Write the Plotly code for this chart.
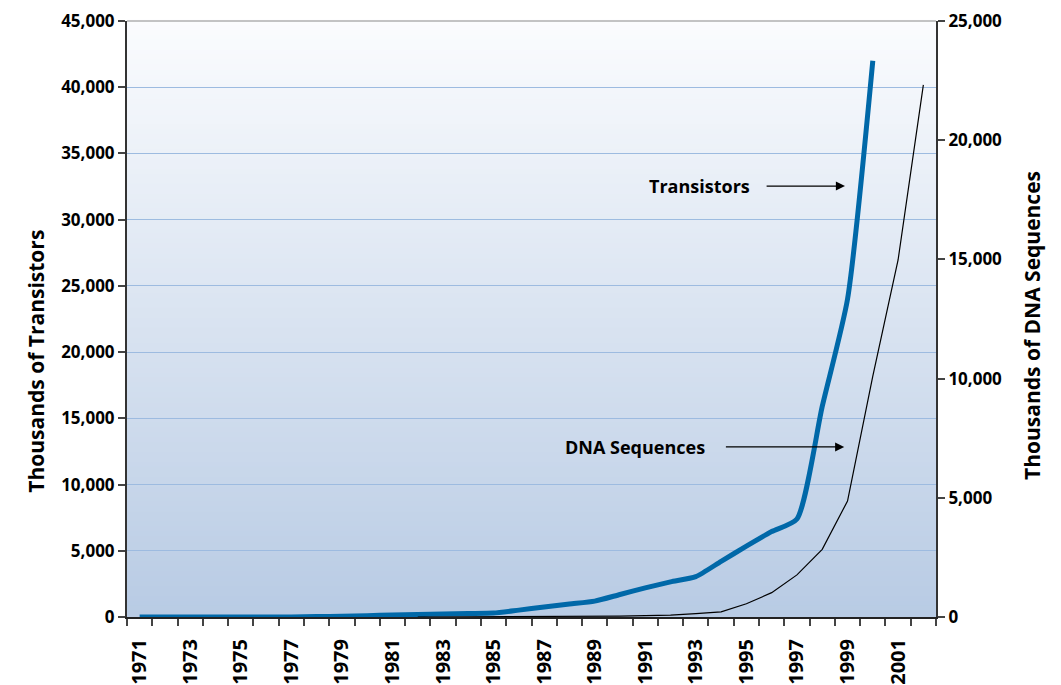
import plotly.graph_objects as go

# Transistor counts (thousands), one value per year
tr_years = list(range(1971, 2001))
transistors = [2.3, 3.5, 3.5, 6, 6, 6, 6, 29, 60, 100,
               150, 180, 220, 260, 300, 520, 750, 980, 1200, 1700,
               2200, 2650, 3050, 4200, 5350, 6450, 7400, 15900, 24000, 42000]

# DNA sequences (thousands)
dna_years = list(range(1982, 2003))
dna = [0.6, 2.4, 4.1, 5.7, 9.6, 14.6, 20.6, 28.8, 39.5, 55.6,
       78.6, 143.5, 215, 555, 1021, 1766, 2838, 4865, 10106, 14976, 22319]

year_labels = [str(y) for y in range(1971, 2002, 2)]

FONT = "Open Sans"
BLUE = "#0068a8"

fig = go.Figure()

fig.add_trace(go.Scatter(
    x=tr_years, y=transistors, mode="lines", name="Transistors",
    line=dict(color=BLUE, width=5, shape="spline", smoothing=0.6),
    yaxis="y"))

fig.add_trace(go.Scatter(
    x=dna_years, y=dna, mode="lines", name="DNA Sequences",
    line=dict(color="black", width=1.2),
    yaxis="y2"))

# vertical gradient background (white -> light blue)
shapes = []
n = 120
top, bot = (251, 252, 254), (184, 203, 228)
for i in range(n):
    t = (i + 0.5) / n
    c = tuple(round(top[k] + (bot[k] - top[k]) * t) for k in range(3))
    shapes.append(dict(type="rect", xref="x domain", yref="y domain",
                       x0=0, x1=1, y0=1 - (i + 1) / n, y1=1 - i / n + 0.002,
                       fillcolor="rgb(%d,%d,%d)" % c, line=dict(width=0),
                       layer="below"))
# thin top border
shapes.append(dict(type="line", xref="x domain", yref="y domain",
                   x0=0, x1=1, y0=1, y1=1, line=dict(color="#8a8a8a", width=1)))

title_font = dict(family=FONT, size=21, color="black", weight="bold")
note_font = dict(family=FONT, size=18, color="black", weight="bold")

annotations = [
    dict(text="Transistors", x=1993.15, y=32540, xref="x", yref="y",
         showarrow=False, font=note_font),
    dict(text="", x=1998.9, y=32540, ax=1995.74, ay=32540, xref="x", yref="y",
         axref="x", ayref="y", showarrow=True, arrowhead=2, arrowsize=1.4,
         arrowwidth=1.3, arrowcolor="black"),
    dict(text="DNA Sequences", x=1990.61, y=12840, xref="x", yref="y",
         showarrow=False, font=note_font),
    dict(text="", x=1998.87, y=12840, ax=1994.13, ay=12840, xref="x", yref="y",
         axref="x", ayref="y", showarrow=True, arrowhead=2, arrowsize=1.4,
         arrowwidth=1.3, arrowcolor="black"),
    dict(text="Thousands of Transistors", x=-0.1323, y=0.43, xref="paper", yref="paper",
         textangle=-90, showarrow=False, font=title_font),
    dict(text="Thousands of DNA Sequences", x=1.1384, y=0.49, xref="paper", yref="paper",
         textangle=-90, showarrow=False, font=title_font),
]

tick_font = dict(family=FONT, size=17, color="black", weight="bold")

fig.update_layout(
    width=1053, height=677,
    margin=dict(l=119, r=125, t=13, b=68),
    paper_bgcolor="white", plot_bgcolor="white",
    showlegend=False,
    shapes=shapes, annotations=annotations,
    xaxis=dict(
        range=[1970.5, 2002.5], tickmode="array",
        tickvals=[int(s) for s in year_labels], ticktext=year_labels,
        tickangle=-90, ticks="", ticklabelstandoff=12,
        tickfont=dict(family=FONT, size=20, color="black", weight="bold"),
        showgrid=False, zeroline=False, automargin=False,
        showline=True, linecolor="#222", linewidth=2,
        minor=dict(tickmode="array",
                   tickvals=[y - 0.5 for y in range(1971, 2003)] + [2002.5],
                   ticks="outside", ticklen=7, tickcolor="#444", tickwidth=1.5,
                   showgrid=False),
    ),
    yaxis=dict(
        range=[0, 45000], dtick=5000, tickformat=",",
        ticks="outside", ticklen=7, tickcolor="#444", tickwidth=1.5,
        tickfont=tick_font, showgrid=True, gridcolor="#9dbbe0", gridwidth=1.2,
        zeroline=False, showline=True, linecolor="#333", linewidth=2,
        automargin=False,
    ),
    yaxis2=dict(
        range=[0, 25000], dtick=5000, tickformat=",", overlaying="y", side="right",
        ticks="outside", ticklen=7, tickcolor="#444", tickwidth=1.5,
        tickfont=tick_font, showgrid=False, zeroline=False,
        showline=True, linecolor="#333", linewidth=2, automargin=False,
    ),
)

fig.write_html("out.html")
